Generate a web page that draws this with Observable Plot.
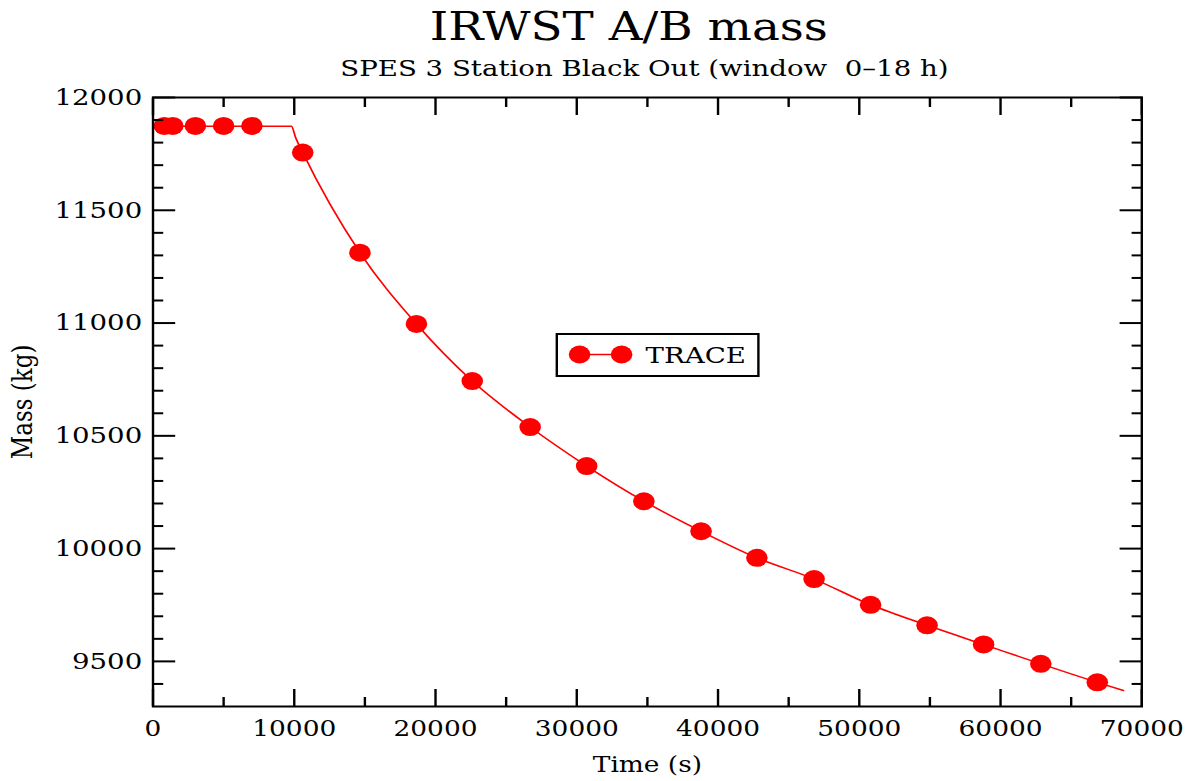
<!DOCTYPE html>
<html>
<head>
<meta charset="utf-8">
<script src="https://cdn.jsdelivr.net/npm/d3@7"></script>
<script src="https://cdn.jsdelivr.net/npm/@observablehq/plot@0.6"></script>
<style>
  html, body { margin: 0; padding: 0; background: #fff; overflow: hidden; }
  #fig { position: relative; width: 998px; height: 781px; transform: scaleX(1.2); transform-origin: 0 0;
         font-family: "DejaVu Serif"; color: #000; }
  #title { position: absolute; left: 112px; width: 824px; top: 7px; text-align: center; font-size: 39px; line-height: 39px; white-space: pre; }
  #subtitle { position: absolute; left: 125px; width: 824px; top: 57px; text-align: center; font-size: 23px; line-height: 23px; white-space: pre; }
  #chart { position: absolute; left: 0; top: 85px; }
  #legend { position: absolute; left: 463px; top: 333px; width: 170px; height: 44px; box-sizing: border-box;
            border: 2px solid #000; background: #fff; }
  #legend svg { display: block; }
</style>
</head>
<body>
<div id="fig">
  <div id="title"></div>
  <div id="subtitle"></div>
  <div id="chart"></div>
  <div id="legend"></div>
</div>
<script>
// ---- text ----
const titleText = "IRWST A/B mass";
const subtitleText = "SPES 3 Station Black Out (window  0\u201318 h)";
const xLabel = "Time (s)";
const yLabel = "Mass (kg)";
const seriesName = "TRACE";

// ---- axis ticks ----
const xMajor = [0, 10000, 20000, 30000, 40000, 50000, 60000, 70000];
const xMinor = [5000, 15000, 25000, 35000, 45000, 55000, 65000];
const yMajor = [9500, 10000, 10500, 11000, 11500, 12000];
const yMinor = [9400, 9600, 9700, 9800, 9900, 10100, 10200, 10300, 10400, 10600, 10700, 10800, 10900,
                11100, 11200, 11300, 11400, 11600, 11700, 11800, 11900];

// ---- TRACE curve ----
const lineTime = [0, 9800, 10100, 10600, 14650, 18650, 22600, 26700, 30700, 34750, 38800,
                  42750, 46800, 50800, 54800, 58800, 62850, 66850, 68700];
const lineMass = [11872, 11872, 11822, 11756, 11312, 10996, 10743, 10539, 10366, 10210, 10077,
                  9959, 9865, 9751, 9660, 9575, 9489, 9407, 9371];

// ---- TRACE markers ----
const markerTime = [800, 1400, 3000, 5000, 7000, 10600, 14650, 18650, 22600, 26700, 30700,
                    34750, 38800, 42750, 46800, 50800, 54800, 58800, 62850, 66850];
const markerMass = [11874, 11874, 11874, 11874, 11874, 11756, 11312, 10996, 10743, 10539, 10366,
                    10210, 10077, 9959, 9865, 9751, 9660, 9575, 9489, 9407];

const red = "#ff0000";
const lineData = lineTime.map((t, i) => ({t, m: lineMass[i]}));
const markerData = markerTime.map((t, i) => ({t, m: markerMass[i]}));
const blank = () => "";

document.getElementById("title").textContent = titleText;
document.getElementById("subtitle").textContent = subtitleText;

const chart = Plot.plot({
  width: 998,
  height: 696,
  marginTop: 12,
  marginBottom: 75,
  marginLeft: 127,
  marginRight: 47,
  style: {fontFamily: "DejaVu Serif", fontSize: "23px", color: "#000", background: "transparent", overflow: "visible"},
  x: {domain: [0, 70000]},
  y: {domain: [9300, 12000]},
  marks: [
    Plot.line(lineData, {x: "t", y: "m", stroke: red, strokeWidth: 1.5, curve: "monotone-x"}),
    Plot.dot(markerData, {x: "t", y: "m", r: 9, fill: red, stroke: null}),
    Plot.frame({stroke: "#000", strokeWidth: 2}),
    // labels
    Plot.axisX(xMajor, {anchor: "bottom", tickSize: 0, tickPadding: 14, tickFormat: "d",
                        label: xLabel, labelArrow: "none", labelAnchor: "center", labelOffset: 65, fontSize: 22}),
    Plot.axisY(yMajor, {anchor: "left", tickSize: 0, tickPadding: 9, tickFormat: "d",
                        label: yLabel, labelArrow: "none", labelAnchor: "center", labelOffset: 117}),
    // inward ticks
    Plot.axisX(xMajor, {anchor: "bottom", tickSize: -17, strokeWidth: 2, tickFormat: blank, label: null}),
    Plot.axisX(xMinor, {anchor: "bottom", tickSize: -9, strokeWidth: 2, tickFormat: blank, label: null}),
    Plot.axisX(xMajor, {anchor: "top", tickSize: -17, strokeWidth: 2, tickFormat: blank, label: null}),
    Plot.axisX(xMinor, {anchor: "top", tickSize: -9, strokeWidth: 2, tickFormat: blank, label: null}),
    Plot.axisY(yMajor, {anchor: "left", tickSize: -19, strokeWidth: 2, tickFormat: blank, label: null}),
    Plot.axisY(yMinor, {anchor: "left", tickSize: -9, strokeWidth: 2, tickFormat: blank, label: null}),
    Plot.axisY(yMajor, {anchor: "right", tickSize: -19, strokeWidth: 2, tickFormat: blank, label: null}),
    Plot.axisY(yMinor, {anchor: "right", tickSize: -9, strokeWidth: 2, tickFormat: blank, label: null})
  ]
});
document.getElementById("chart").appendChild(chart);

// ---- legend ----
const lg = d3.select("#legend").append("svg").attr("width", 166).attr("height", 40);
lg.append("line").attr("x1", 18).attr("x2", 53).attr("y1", 19.5).attr("y2", 19.5)
  .attr("stroke", red).attr("stroke-width", 1.5);
lg.selectAll("circle").data([18, 53]).join("circle")
  .attr("cx", d => d).attr("cy", 19.5).attr("r", 9).attr("fill", red);
lg.append("text").attr("x", 73).attr("y", 28.3)
  .attr("font-family", "DejaVu Serif").attr("font-size", 23).attr("fill", "#000").text(seriesName);
</script>
</body>
</html>
